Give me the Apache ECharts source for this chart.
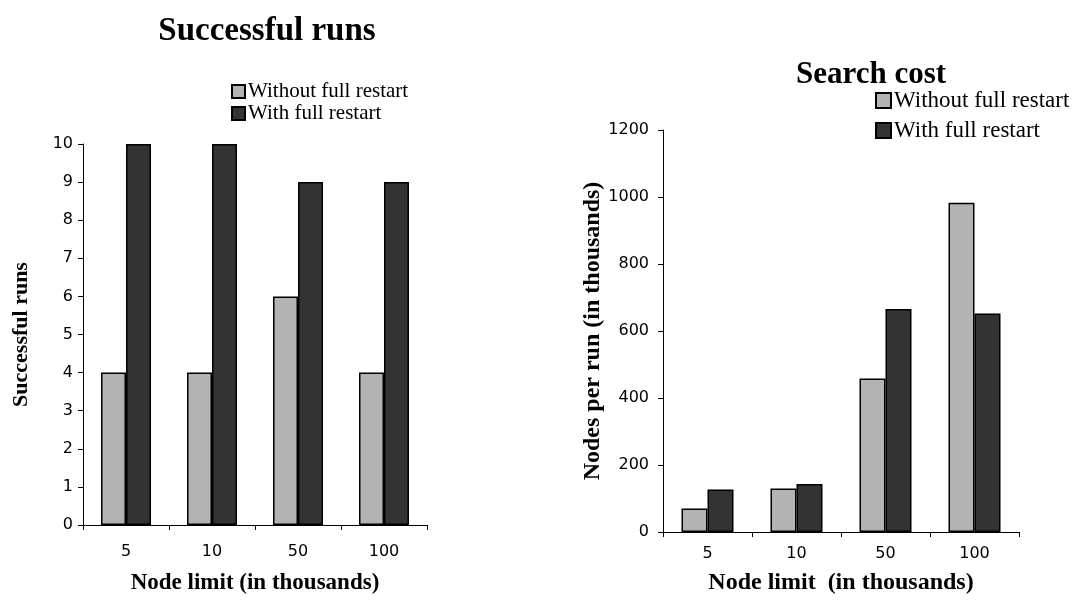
<!DOCTYPE html>
<html>
<head>
<meta charset="utf-8">
<script src="https://cdn.jsdelivr.net/npm/echarts@6/dist/echarts.min.js"></script>
<style>
  html, body { margin: 0; padding: 0; background: #fff; }
  #chart { width: 1087px; height: 600px; }
</style>
</head>
<body>
<div id="chart"></div>
<script>
// data
var categories = ['5', '10', '50', '100']
var seriesNames = ['Without full restart', 'With full restart']
var runsWithout = [4, 4, 6, 4]
var runsWith = [10, 10, 9, 9]
var costWithout = [70, 130, 458, 983]
var costWith = [127, 143, 666, 652]

var serif = "'Liberation Serif', 'Times New Roman', serif"
var sans = "'DejaVu Sans', Verdana, sans-serif"
var lightGray = '#b3b3b3'
var darkGray = '#333333'

function barSeries(name, data, color, idx, width) {
  return {
    name: name,
    type: 'bar',
    xAxisIndex: idx,
    yAxisIndex: idx,
    data: data,
    barWidth: width,
    barGap: '0%',
    itemStyle: { color: color, borderColor: '#000', borderWidth: 1.5 },
    animation: false
  }
}

var chart = echarts.init(document.getElementById('chart'))
chart.setOption({
  backgroundColor: '#fff',
  title: [
    {
      text: 'Successful runs',
      left: 262, top: 10, textAlign: 'center',
      textStyle: { fontFamily: serif, fontWeight: 'bold', fontSize: 33, color: '#000' }
    },
    {
      text: 'Search cost',
      left: 866, top: 54, textAlign: 'center',
      textStyle: { fontFamily: serif, fontWeight: 'bold', fontSize: 31, color: '#000' }
    }
  ],
  legend: [
    {
      data: seriesNames, orient: 'vertical', left: 226, top: 76,
      icon: 'rect', itemWidth: 13, itemHeight: 13, itemGap: 1,
      textStyle: { fontFamily: serif, fontSize: 21, color: '#000', padding: [0, 0, 0, -2] }
    },
    {
      data: seriesNames, orient: 'vertical', left: 870, top: 84,
      icon: 'rect', itemWidth: 15, itemHeight: 15, itemGap: 7,
      textStyle: { fontFamily: serif, fontSize: 23, color: '#000', padding: [0, 0, 0, -2] }
    }
  ],
  grid: [
    { left: 83, top: 144, width: 344, height: 383 },
    { left: 663, top: 130, width: 356, height: 403 }
  ],
  xAxis: [
    {
      type: 'category', gridIndex: 0, data: categories,
      axisLine: { lineStyle: { color: '#000', width: 1 } },
      axisTick: { show: true, length: 5, lineStyle: { color: '#000' } },
      axisLabel: { fontFamily: sans, fontSize: 16, color: '#000', margin: 19 },
      name: 'Node limit (in thousands)', nameLocation: 'middle', nameGap: 47,
      nameTextStyle: { fontFamily: serif, fontWeight: 'bold', fontSize: 23, color: '#000' }
    },
    {
      type: 'category', gridIndex: 1, data: categories,
      axisLine: { lineStyle: { color: '#000', width: 1 } },
      axisTick: { show: true, length: 5, lineStyle: { color: '#000' } },
      axisLabel: { fontFamily: sans, fontSize: 16, color: '#000', margin: 14 },
      name: 'Node limit  (in thousands)', nameLocation: 'middle', nameGap: 39,
      nameTextStyle: { fontFamily: serif, fontWeight: 'bold', fontSize: 24, color: '#000' }
    }
  ],
  yAxis: [
    {
      type: 'value', gridIndex: 0, min: 0, max: 10, interval: 1,
      splitLine: { show: false },
      axisLine: { show: true, lineStyle: { color: '#000', width: 1 } },
      axisTick: { show: true, length: 5, lineStyle: { color: '#000' } },
      axisLabel: { fontFamily: sans, fontSize: 16, color: '#000', margin: 10 },
      name: 'Successful runs', nameLocation: 'middle', nameGap: 51,
      nameTextStyle: { fontFamily: serif, fontWeight: 'bold', fontSize: 22, color: '#000' }
    },
    {
      type: 'value', gridIndex: 1, min: 0, max: 1200, interval: 200,
      splitLine: { show: false },
      axisLine: { show: true, lineStyle: { color: '#000', width: 1 } },
      axisTick: { show: true, length: 5, lineStyle: { color: '#000' } },
      axisLabel: {
        fontFamily: sans, fontSize: 16, color: '#000', margin: 14,
        formatter: function(v) { return String(v) }
      },
      name: 'Nodes per run (in thousands)', nameLocation: 'middle', nameGap: 58,
      nameTextStyle: { fontFamily: serif, fontWeight: 'bold', fontSize: 24, color: '#000' }
    }
  ],
  series: [
    barSeries(seriesNames[0], runsWithout, lightGray, 0, 25),
    barSeries(seriesNames[1], runsWith, darkGray, 0, 25),
    barSeries(seriesNames[0], costWithout, lightGray, 1, 26),
    barSeries(seriesNames[1], costWith, darkGray, 1, 26)
  ]
})
</script>
</body>
</html>
